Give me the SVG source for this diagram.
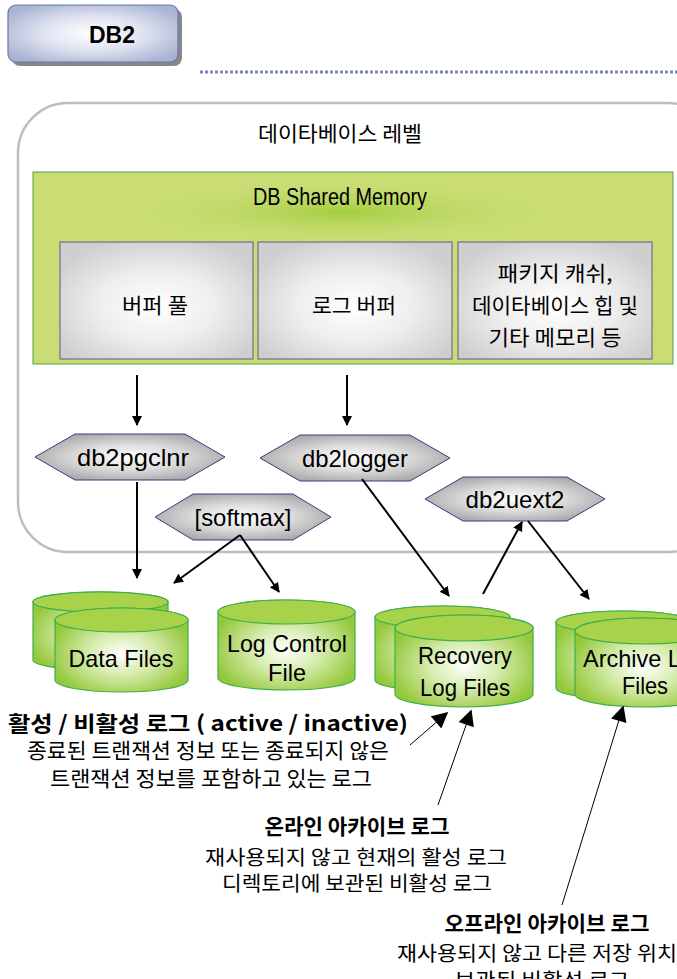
<svg xmlns="http://www.w3.org/2000/svg" width="677" height="979" viewBox="0 0 677 979">
<defs>
<style>
.t{font-family:"Liberation Sans","Noto Sans CJK KR",sans-serif;fill:#000;text-anchor:middle}
.k{font-family:"Noto Sans CJK KR","Liberation Sans",sans-serif;fill:#000;text-anchor:middle}
.b{font-weight:bold}
.conn{stroke:#000;stroke-width:2;fill:none}
.thin{stroke:#000;stroke-width:1;fill:none}
.gbox{fill:url(#gray);stroke:#5a5a90;stroke-width:1}
.hex{fill:url(#hexg);stroke:#3a3a80;stroke-width:1}
.cyl{fill:url(#cylg);stroke:#3cb04a;stroke-width:1.2}
.cyltop{fill:#a8d24a;stroke:#3cb04a;stroke-width:1.2}
</style>
<radialGradient id="gray" cx="0.5" cy="0.55" r="0.6">
<stop offset="0" stop-color="#ffffff"/><stop offset="0.5" stop-color="#eeeeee"/><stop offset="1" stop-color="#cfcfcf"/>
</radialGradient>
<radialGradient id="hexg" cx="0.5" cy="0.5" r="0.55">
<stop offset="0" stop-color="#ffffff"/><stop offset="0.5" stop-color="#dcdcdc"/><stop offset="1" stop-color="#a8a8a8"/>
</radialGradient>
<radialGradient id="cylg" cx="0.5" cy="0.55" r="0.55">
<stop offset="0" stop-color="#ffffff"/><stop offset="0.45" stop-color="#d6ecae"/><stop offset="1" stop-color="#94c83a"/>
</radialGradient>
<radialGradient id="tabg" cx="0.5" cy="0.5" r="0.6">
<stop offset="0" stop-color="#ffffff"/><stop offset="0.5" stop-color="#dfe3f0"/><stop offset="1" stop-color="#a9b3d3"/>
</radialGradient>
<radialGradient id="glow" cx="0.5" cy="0.5" r="0.5">
<stop offset="0" stop-color="#a2ce40" stop-opacity="1"/><stop offset="1" stop-color="#c9dd74" stop-opacity="0"/>
</radialGradient>
<marker id="ah" viewBox="0 0 10 10" refX="9" refY="5" markerWidth="5" markerHeight="5" orient="auto" markerUnits="strokeWidth">
<path d="M0,0 L10,5 L0,10 Z" fill="#000"/>
</marker>
<marker id="ahb" viewBox="0 0 10 10" refX="9" refY="5" markerWidth="18" markerHeight="16" orient="auto" markerUnits="userSpaceOnUse">
<path d="M0,0 L10,5 L0,10 Z" fill="#000"/>
</marker>
</defs>

<g id="header">
<rect x="12" y="9" width="170" height="57" rx="8" fill="#888"/>
<rect x="8" y="5" width="170" height="57" rx="8" fill="url(#tabg)" stroke="#6a78a8" stroke-width="1.2"/>
<text class="t b" x="112" y="43" font-size="24" textLength="46" lengthAdjust="spacingAndGlyphs">DB2</text>
<line x1="200" y1="72" x2="677" y2="72" stroke="#7a88b8" stroke-width="3" stroke-dasharray="3,2"/>
</g>

<g id="database-level">
<rect x="18" y="103" width="700" height="449" rx="50" fill="#fff" stroke="#bdbdbd" stroke-width="2.5"/>
<text class="k" x="340" y="141" font-size="21" textLength="164" lengthAdjust="spacingAndGlyphs">데이타베이스 레벨</text>
</g>

<g id="shared-memory">
<rect x="33" y="172" width="640" height="192" fill="#c9dd74" stroke="#45a845" stroke-width="1"/>
<ellipse cx="345" cy="212" rx="230" ry="32" fill="url(#glow)"/>
<text class="t" x="340" y="205" font-size="23" textLength="174" lengthAdjust="spacingAndGlyphs">DB Shared Memory</text>
</g>

<g id="buffer-pool">
<rect class="gbox" x="60" y="242" width="193" height="117"/>
<text class="k" x="155" y="313" font-size="21" textLength="66" lengthAdjust="spacingAndGlyphs">버퍼 풀</text>
</g>
<g id="log-buffer">
<rect class="gbox" x="258" y="242" width="194" height="117"/>
<text class="k" x="354" y="313" font-size="21" textLength="84" lengthAdjust="spacingAndGlyphs">로그 버퍼</text>
</g>
<g id="package-cache">
<rect class="gbox" x="458" y="242" width="194" height="117"/>
<text class="k" x="555" y="281" font-size="21" textLength="115" lengthAdjust="spacingAndGlyphs">패키지 캐쉬,</text>
<text class="k" x="555" y="313" font-size="21" textLength="166" lengthAdjust="spacingAndGlyphs">데이타베이스 힙 및</text>
<text class="k" x="555" y="345" font-size="21" textLength="133" lengthAdjust="spacingAndGlyphs">기타 메모리 등</text>
</g>

<g id="db2pgclnr">
<polygon class="hex" points="35,457 75,434 185,434 225,457 185,480 75,480"/>
<text class="t" x="133" y="466" font-size="24" textLength="112" lengthAdjust="spacingAndGlyphs">db2pgclnr</text>
</g>
<g id="db2logger">
<polygon class="hex" points="260,458 300,435 410,435 450,458 410,481 300,481"/>
<text class="t" x="355" y="467" font-size="24" textLength="106" lengthAdjust="spacingAndGlyphs">db2logger</text>
</g>
<g id="db2uext2">
<polygon class="hex" points="425,499 463,477 567,477 605,499 567,521 463,521"/>
<text class="t" x="515" y="508" font-size="24" textLength="99" lengthAdjust="spacingAndGlyphs">db2uext2</text>
</g>
<g id="softmax">
<polygon class="hex" points="155,517 193,494 293,494 331,517 293,540 193,540"/>
<text class="t" x="243" y="526" font-size="24" textLength="97" lengthAdjust="spacingAndGlyphs">[softmax]</text>
</g>

<g id="data-files">
<path class="cyl" d="M33,602 L33,660 A67,10 0 0 0 168,660 L168,602 A67,10 0 0 0 33,602 Z"/>
<ellipse class="cyltop" cx="100.5" cy="602" rx="67.5" ry="10"/>
<path class="cyl" d="M55,620 L55,680 A66.5,12 0 0 0 188,680 L188,620 A66.5,12 0 0 0 55,620 Z"/>
<ellipse class="cyltop" cx="121.5" cy="620" rx="66.5" ry="12"/>
<text class="t" x="121" y="667" font-size="24" textLength="105" lengthAdjust="spacingAndGlyphs">Data Files</text>
</g>

<g id="log-control-file">
<path class="cyl" d="M218,612 L218,678 A68.5,12 0 0 0 355,678 L355,612 A68.5,12 0 0 0 218,612 Z"/>
<ellipse class="cyltop" cx="286.5" cy="612" rx="68.5" ry="12"/>
<text class="t" x="287" y="652" font-size="24" textLength="120" lengthAdjust="spacingAndGlyphs">Log Control</text>
<text class="t" x="287" y="681" font-size="24" textLength="38" lengthAdjust="spacingAndGlyphs">File</text>
</g>

<g id="recovery-log-files">
<path class="cyl" d="M375,617 L375,680 A67.5,11 0 0 0 510,680 L510,617 A67.5,11 0 0 0 375,617 Z"/>
<ellipse class="cyltop" cx="442.5" cy="617" rx="67.5" ry="11"/>
<path class="cyl" d="M395,628 L395,694 A69,13 0 0 0 533,694 L533,628 A69,13 0 0 0 395,628 Z"/>
<ellipse class="cyltop" cx="464" cy="628" rx="69" ry="13"/>
<text class="t" x="465" y="664" font-size="24" textLength="94" lengthAdjust="spacingAndGlyphs">Recovery</text>
<text class="t" x="465" y="696" font-size="24" textLength="90" lengthAdjust="spacingAndGlyphs">Log Files</text>
</g>

<g id="archive-log-files">
<path class="cyl" d="M556,622 L556,688 A67,11 0 0 0 690,688 L690,622 A67,11 0 0 0 556,622 Z"/>
<ellipse class="cyltop" cx="623" cy="622" rx="67" ry="11"/>
<path class="cyl" d="M575,631 L575,694 A69,13 0 0 0 713,694 L713,631 A69,13 0 0 0 575,631 Z"/>
<ellipse class="cyltop" cx="644" cy="631" rx="69" ry="13"/>
<text class="t" x="645" y="667" font-size="24" textLength="124" lengthAdjust="spacingAndGlyphs">Archive Log</text>
<text class="t" x="645" y="694" font-size="24" textLength="46" lengthAdjust="spacingAndGlyphs">Files</text>
</g>

<g id="connectors">
<line class="conn" x1="137" y1="375" x2="137" y2="425" marker-end="url(#ah)"/>
<line class="conn" x1="347" y1="375" x2="347" y2="425" marker-end="url(#ah)"/>
<line class="conn" x1="137" y1="482" x2="137" y2="578" marker-end="url(#ah)"/>
<line class="conn" x1="240" y1="535" x2="174" y2="583" marker-end="url(#ah)"/>
<line class="conn" x1="240" y1="535" x2="279" y2="592" marker-end="url(#ah)"/>
<line class="conn" x1="362" y1="479" x2="449" y2="596" marker-end="url(#ah)"/>
<line class="conn" x1="483" y1="594" x2="522" y2="522" marker-end="url(#ah)"/>
<line class="conn" x1="528" y1="521" x2="589" y2="599" marker-end="url(#ah)"/>
<line class="thin" x1="410" y1="745" x2="447" y2="713" marker-end="url(#ahb)"/>
<line class="thin" x1="438" y1="805" x2="471" y2="711" marker-end="url(#ahb)"/>
<line class="thin" x1="562" y1="905" x2="623" y2="707" marker-end="url(#ahb)"/>
</g>

<g id="active-inactive-note">
<text class="k b" x="208" y="731" font-size="21" textLength="400" lengthAdjust="spacingAndGlyphs">활성 / 비활성 로그 ( active / inactive)</text>
<text class="k" x="208" y="758" font-size="21" textLength="362" lengthAdjust="spacingAndGlyphs">종료된 트랜잭션 정보 또는 종료되지 않은</text>
<text class="k" x="211" y="786" font-size="21" textLength="322" lengthAdjust="spacingAndGlyphs">트랜잭션 정보를 포함하고 있는 로그</text>
</g>
<g id="online-archive-note">
<text class="k b" x="357" y="834" font-size="21" textLength="185" lengthAdjust="spacingAndGlyphs">온라인 아카이브 로그</text>
<text class="k" x="356" y="865" font-size="20" textLength="302" lengthAdjust="spacingAndGlyphs">재사용되지 않고 현재의 활성 로그</text>
<text class="k" x="357" y="891" font-size="20" textLength="270" lengthAdjust="spacingAndGlyphs">디렉토리에 보관된 비활성 로그</text>
</g>
<g id="offline-archive-note">
<text class="k b" x="547" y="931" font-size="21" textLength="205" lengthAdjust="spacingAndGlyphs">오프라인 아카이브 로그</text>
<text class="k" x="537" y="961" font-size="20" textLength="280" lengthAdjust="spacingAndGlyphs">재사용되지 않고 다른 저장 위치</text>
<text class="k" x="542" y="988" font-size="20" textLength="175" lengthAdjust="spacingAndGlyphs">보관된 비활성 로그</text>
</g>
</svg>
